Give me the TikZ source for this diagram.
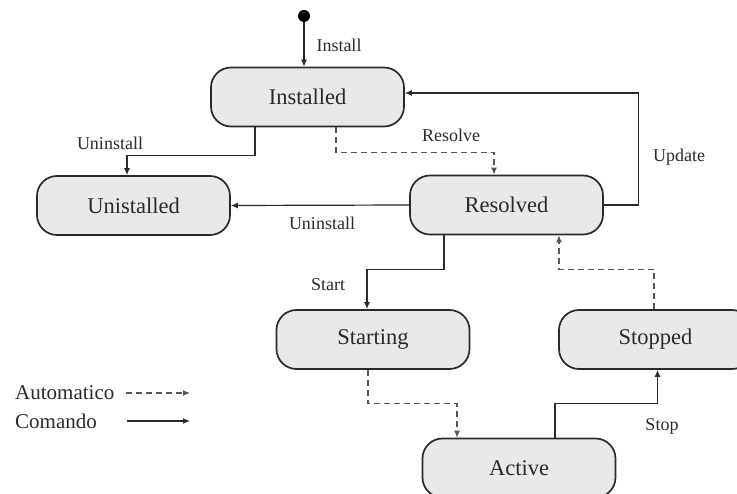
\documentclass[tikz,border=0pt]{standalone}
\usepackage{fontspec}
\setmainfont{Liberation Serif}
\usetikzlibrary{arrows.meta}
\definecolor{statefill}{HTML}{E9E9E9}
\definecolor{ink}{HTML}{2A2A2A}
\definecolor{dashink}{HTML}{555555}
\begin{document}
\begin{tikzpicture}[x=1pt,y=-1pt,
  state/.style={draw=ink, line width=1.7pt, fill=statefill, rounded corners=20pt,
    minimum width=193pt, minimum height=59pt, inner sep=0pt,
    text=ink, font=\fontsize{22.5}{25}\selectfont},
  cmd/.style={draw=ink, line width=1.2pt, -{Latex[length=7pt,width=6pt]}},
  auto/.style={draw=dashink, line width=1.2pt, dash pattern=on 6pt off 4pt,
    -{Latex[length=7pt,width=6pt]}},
  lbl/.style={text=ink, font=\fontsize{18}{20}\selectfont, inner sep=0pt},
  legend/.style={text=ink, font=\fontsize{21}{23}\selectfont, inner sep=0pt, anchor=west}]
  \useasboundingbox (0,0) rectangle (737,494);
  \clip (0,0) rectangle (737,494);

  % states
  \node[circle, fill=black, inner sep=0pt, minimum size=12pt] (init) at (304,16) {};
  \node[state] (installed)  at (307.5,97)  {Installed};
  \node[state] (unistalled) at (133.5,205.5) {Unistalled};
  \node[state] (resolved)   at (506.5,205) {Resolved};
  \node[state] (starting)   at (373,339.5) {Starting};
  \node[state] (stopped)    at (655.5,339.5) {Stopped};
  \node[state] (active)     at (519,468)   {Active};

  % transitions
  \draw[cmd] (init) -- (init |- installed.north);
  \draw[cmd] ([xshift=-52.5pt]installed.south) -- ++(0,28)
             -| ([xshift=-6.5pt]unistalled.north);
  \draw[auto] ([xshift=28.5pt]installed.south) -- ++(0,25)
              -| ([xshift=-12.5pt]resolved.north);
  \draw[cmd] (resolved.west) -- (unistalled.east);
  \draw[cmd] (resolved.east) -- ++(35,0) |- ([yshift=4pt]installed.east);
  \draw[cmd] ([xshift=-62.5pt]resolved.south) -- ++(0,34)
             -| ([xshift=-6pt]starting.north);
  \draw[auto] ([xshift=-5pt]starting.south) -- ++(0,34)
              -| ([xshift=-62pt]active.north);
  \draw[cmd] ([xshift=36pt]active.north) -- ++(0,-34)
             -| ([xshift=2pt]stopped.south);
  \draw[auto] ([xshift=-1.5pt]stopped.north) -- ++(0,-40)
              -| ([xshift=52.5pt]resolved.south);

  % transition labels
  \node[lbl] (lInstall)    at (339,45)  {Install};
  \node[lbl] (lUninstallA) at (110,143) {Uninstall};
  \node[lbl] (lResolve)    at (451,135) {Resolve};
  \node[lbl] (lUninstallB) at (322,223) {Uninstall};
  \node[lbl] (lUpdate)     at (679,157) {Update};
  \node[lbl] (lStart)      at (328,285) {Start};
  \node[lbl] (lStop)       at (662,426) {Stop};

  % legend
  \node[legend] (kAuto) at (15,393) {Automatico};
  \node[legend] (kCmd)  at (15,421) {Comando};
  \coordinate (kAutoA) at (126,393);
  \coordinate (kAutoB) at (190,393);
  \coordinate (kCmdA)  at (127,421);
  \coordinate (kCmdB)  at (190,421);
  \draw[auto] (kAutoA) -- (kAutoB);
  \draw[cmd]  (kCmdA) -- (kCmdB);
\end{tikzpicture}
\end{document}
